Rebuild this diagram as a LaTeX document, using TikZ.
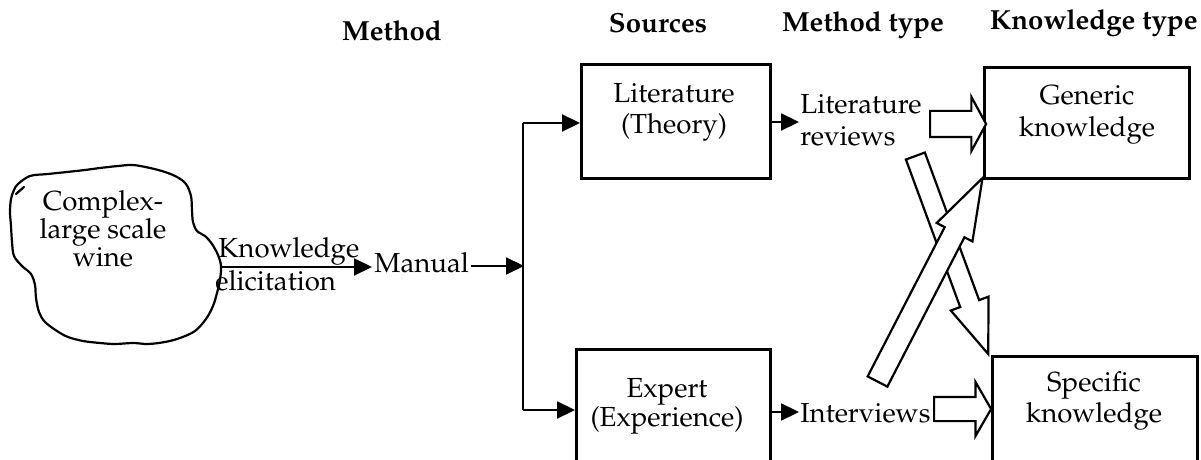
\documentclass[tikz,border=0pt]{standalone}
\usepackage[T1]{fontenc}
\usepackage{mathpazo}
\usetikzlibrary{arrows.meta,shapes.arrows}
\begin{document}
\begin{tikzpicture}[x=0.5pt,y=-0.5pt,
  every node/.style={font=\fontsize{13.8}{15}\selectfont, inner sep=0pt},
  txt/.style={anchor=base},
  lefttxt/.style={anchor=base west},
  hdr/.style={anchor=base, font=\fontsize{13.8}{15}\selectfont\bfseries},
  box/.style={draw, line width=1.4pt, anchor=north west},
  thinarrow/.style={line width=1.1pt, -{Triangle[length=9pt,width=8.5pt]}},
  plainline/.style={line width=1.1pt},
  cloudline/.style={line width=1.1pt, line join=round, line cap=round},
  blockarr/.style={single arrow, draw, line width=1.1pt, fill=white, inner xsep=0pt, anchor=tail},
]
\fill[white] (0,0) rectangle (1201,460);
\useasboundingbox (0,0) rectangle (1201,460);
\clip (0,0) rectangle (1201,460);

% headers
\node[hdr] (hmethod) at (392,41) {Method};
\node[hdr] (hsources) at (658,33) {Sources};
\node[hdr] (hmtype) at (863,32) {Method type};
\node[hdr, anchor=base east] (hktype) at (1198,30) {Knowledge type};

% cloud
\draw[cloudline] plot[smooth cycle, tension=0.55] coordinates {
 (18,184) (30,176) (48,174) (67,172) (85,170) (100,168) (118,166) (133,165)
 (150,168) (165,172) (177,177) (186,184) (191,196) (192,210) (193,222) (197,231)
 (205,236) (212,244) (218,255) (221,266) (220,280) (217,293) (213,306) (206,319)
 (195,331) (180,338) (165,342) (148,344) (133,343) (115,344) (100,343) (83,341)
 (68,337) (57,331) (45,322) (39,312) (36,298) (35,285) (31,274) (22,266)
 (14,256) (12,242) (11,226) (10,212) (11,199) (14,190)};
\draw[cloudline] (16,194) -- (24,187);
\coordinate (cloudE) at (222,267);
\node[txt] (c1) at (103,211) {Complex-};
\node[txt] (c2) at (103,239) {large scale};
\node[txt] (c3) at (103,267) {wine};

% knowledge elicitation
\node[lefttxt] (ke1) at (218,257) {Knowledge};
\node[lefttxt] (ke2) at (215,291) {elicitation};
\node[lefttxt, inner xsep=1pt] (manual) at (372,272) {Manual};
\draw[thinarrow] (cloudE) -- (cloudE -| manual.west);

% junction
\coordinate (jm) at (524,266);
\coordinate (jt) at (523,123);
\coordinate (jb) at (523,410);
\draw[thinarrow] (manual.east |- jm) -- (jm);
\draw[plainline] (jt) -- (jb);

% boxes
\node[box, minimum width=94.5pt, minimum height=57pt] (lit) at (580,63) {};
\node[txt] (lit1) at (674,103) {Literature};
\node[txt] (lit2) at (674,134) {(Theory)};

\node[box, minimum width=97pt, minimum height=61pt] (exp) at (575,348) {};
\node[txt] (exp1) at (667,397) {Expert};
\node[txt] (exp2) at (667,426) {(Experience)};

\node[box, minimum width=102.5pt, minimum height=55.5pt] (gen) at (983,66) {};
\node[txt] (gen1) at (1087,105) {Generic};
\node[txt] (gen2) at (1087,137) {knowledge};

\node[box, minimum width=102.5pt, minimum height=60pt] (spec) at (991,355) {};
\node[txt] (spec1) at (1094,391) {Specific};
\node[txt] (spec2) at (1094,422) {knowledge};

\draw[thinarrow] (jt) -- (jt -| lit.west);
\draw[thinarrow] (jb) -- (jb -| exp.west);

% method types
\node[lefttxt] (rv1) at (800,114) {Literature};
\node[lefttxt] (rv2) at (800,146) {reviews};
\node[lefttxt] (iv) at (800,422) {Interviews};
\coordinate (rvin) at (799,122);
\coordinate (ivin) at (799,412);
\draw[thinarrow] (lit.east |- rvin) -- (rvin);
\draw[thinarrow] (exp.east |- ivin) -- (ivin);

% block arrows
\node[blockarr, minimum height=28pt, inner ysep=6pt, single arrow head extend=7pt,
      single arrow tip angle=123] (bgen) at (929,124) {};
\node[blockarr, minimum height=28.5pt, inner ysep=5.5pt, single arrow head extend=7.5pt,
      single arrow tip angle=120] (bspec) at (933,409) {};
\node[blockarr, minimum height=105.5pt, inner ysep=4.5pt, single arrow head extend=5pt,
      single arrow tip angle=41, rotate=-69.8] (bdown) at (915,155) {};
\node[blockarr, minimum height=114.5pt, inner ysep=5pt, single arrow head extend=4.5pt,
      single arrow tip angle=36.5, rotate=62.7] (bup) at (877,382.5) {};
\end{tikzpicture}
\end{document}
